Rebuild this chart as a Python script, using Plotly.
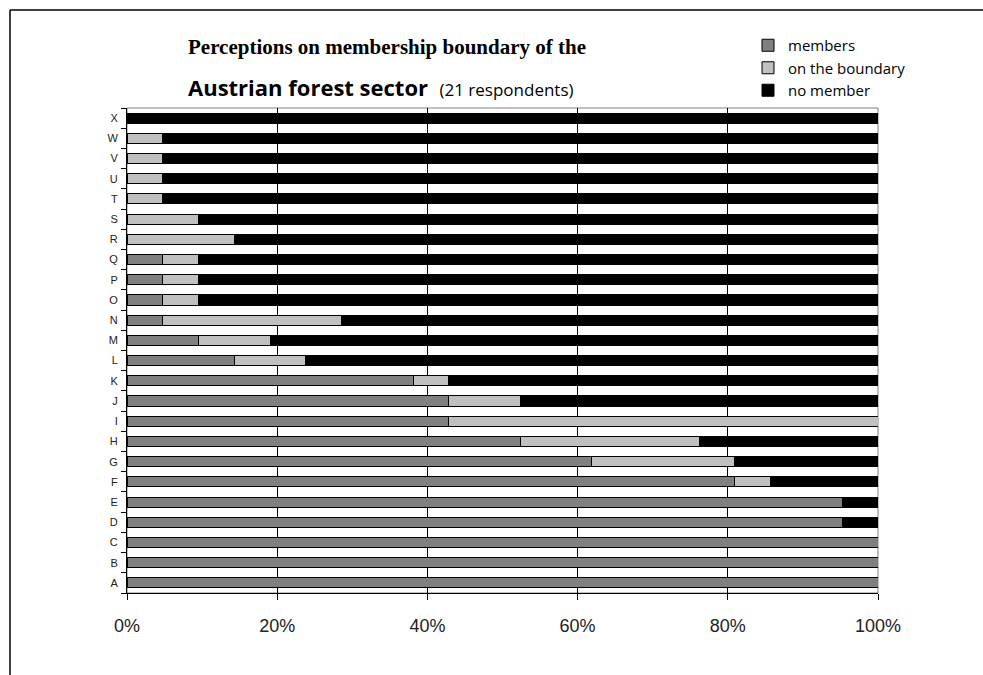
import plotly.graph_objects as go

categories = list("ABCDEFGHIJKLMNOPQRSTUVWX")
members = [21, 21, 21, 20, 20, 17, 13, 11, 9, 9, 8, 3, 2, 1, 1, 1, 1, 0, 0, 0, 0, 0, 0, 0]
boundary = [0, 0, 0, 0, 0, 1, 4, 5, 12, 2, 1, 2, 2, 5, 1, 1, 1, 3, 2, 1, 1, 1, 1, 0]
no_member = [0, 0, 0, 1, 1, 3, 4, 5, 0, 10, 12, 16, 17, 15, 19, 19, 19, 18, 19, 20, 20, 20, 20, 21]
series_names = ["members", "on the boundary", "no member"]
series_colors = ["#808080", "#C0C0C0", "#000000"]
x_ticks = [0, 20, 40, 60, 80, 100]

fig = go.Figure()
for name, vals, col in zip(series_names, [members, boundary, no_member], series_colors):
    fig.add_trace(go.Bar(
        y=categories, x=vals, name=name, orientation="h",
        marker=dict(color=col, line=dict(color="#000000", width=1)),
        hoverinfo="skip",
    ))

W, H = 983, 675
L, R, T, B = 127, 105, 108, 82
pw, ph = W - L - R, H - T - B

def px_x(p):
    return (p - L) / pw

def px_y(p):
    return (H - B - p) / ph

fig.update_layout(
    width=W, height=H,
    margin=dict(l=L, r=R, t=T, b=B),
    barmode="stack", barnorm="percent", bargap=0.5,
    plot_bgcolor="white", paper_bgcolor="white",
    font=dict(family="Liberation Sans", color="black"),
    legend=dict(
        x=px_x(748), y=px_y(29), xanchor="left", yanchor="top",
        traceorder="normal", font=dict(family="Open Sans", size=15, color="black"),
        bgcolor="rgba(0,0,0,0)", itemwidth=30, tracegroupgap=0,
    ),
    xaxis=dict(
        range=[0, 100], tickvals=x_ticks, ticktext=[f"{v}%" for v in x_ticks],
        showgrid=True, gridcolor="#000000", gridwidth=1,
        showline=True, linecolor="#000000", linewidth=1,
        ticks="outside", ticklen=6, tickcolor="#000000",
        tickfont=dict(family="Liberation Sans", size=18, color="#222"),
        ticklabelstandoff=10, zeroline=False, fixedrange=True,
    ),
    yaxis=dict(
        categoryorder="array", categoryarray=categories,
        showline=True, linecolor="#000000", linewidth=1,
        ticks="outside", ticklen=5, tickcolor="#000000", tickson="boundaries",
        tickfont=dict(family="Liberation Sans", size=11, color="#222"),
        ticklabelstandoff=6,
        showgrid=False, fixedrange=True,
    ),
    showlegend=True,
)

shapes = [
    dict(type="rect", xref="paper", yref="paper", x0=0, x1=1, y0=0, y1=1,
         line=dict(color="#808080", width=1), layer="below"),
    dict(type="line", xref="paper", yref="paper", x0=px_x(10), x1=px_x(995),
         y0=px_y(10), y1=px_y(10), line=dict(color="#000", width=1.5)),
    dict(type="line", xref="paper", yref="paper", x0=px_x(10), x1=px_x(10),
         y0=px_y(10), y1=px_y(690), line=dict(color="#000", width=1.5)),
]
fig.update_layout(shapes=shapes)

fig.add_annotation(
    xref="paper", yref="paper", x=px_x(186), y=px_y(47), xanchor="left", yanchor="middle",
    text="<b>Perceptions on membership boundary of the</b>", showarrow=False,
    font=dict(family="Liberation Serif", size=21, color="black"),
)
fig.add_annotation(
    xref="paper", yref="paper", x=px_x(186), y=px_y(87), xanchor="left", yanchor="middle",
    text="<b>Austrian forest sector</b>  <span style='font-size:17px'>(21 respondents)</span>",
    showarrow=False,
    font=dict(family="Open Sans", size=22, color="black"),
)

fig.write_html("out.html", config={"displayModeBar": False})
